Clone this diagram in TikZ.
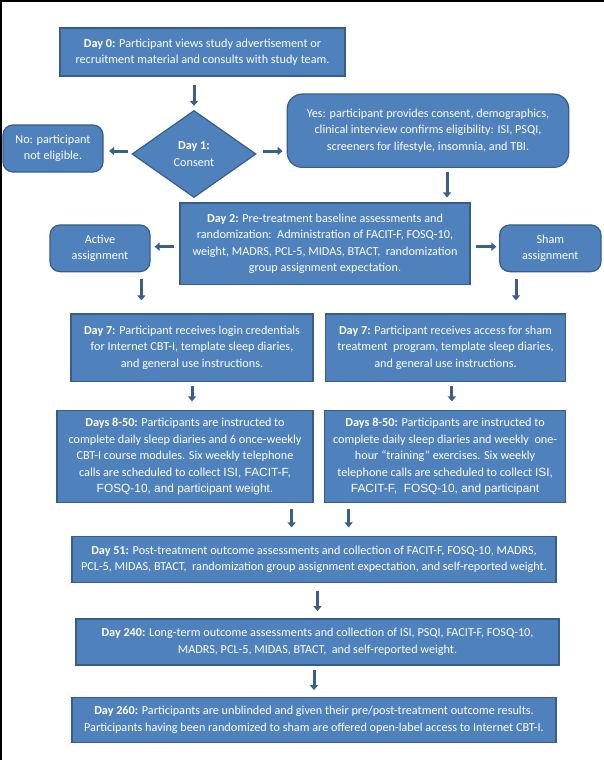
\documentclass[tikz,border=0pt]{standalone}
\usepackage{fontspec}
\setmainfont{Carlito}
\newfontfamily\arialf[Scale=0.975]{Liberation Sans}
\usetikzlibrary{shapes.geometric,arrows.meta}
\definecolor{boxfill}{HTML}{4F81BD}
\definecolor{boxline}{HTML}{385D8A}
\definecolor{arrcol}{HTML}{3A5F8B}
\begin{document}
\begin{tikzpicture}[x=1pt,y=-1pt,
  box/.style={draw=boxline, line width=1.2pt, fill=boxfill, text=white, align=center,
    inner sep=0pt, font=\fontsize{12.2}{16.5}\selectfont},
  rbox/.style={box, rounded corners=10pt},
  arr/.style={draw=arrcol, line width=3pt, -{Triangle[width=8pt,length=5pt]}}]
\useasboundingbox (0,0) rectangle (604,760);
\fill[white] (0,0) rectangle (604,760);
\draw[black, line width=2pt] (0,1) -- (604,1);
\draw[black, line width=2pt] (1,0) -- (1,760);

\node[box, minimum width=285pt, minimum height=48pt] (d0) at (202.5,52)
  {\textbf{Day 0:} Participant views study advertisement or\\recruitment material and consults with study team.};
\node[box, shape=diamond, minimum width=124pt, minimum height=87pt] (c1) at (194,154)
  {\textbf{Day 1:}\\Consent};
\node[rbox, minimum width=100pt, minimum height=47pt] (no) at (53,148.5)
  {No: participant\\not eligible.};
\node[box, rounded corners=15pt, minimum width=281.6pt, minimum height=73.3pt] (yes) at (428,130.7)
  {Yes: participant provides consent, demographics,\\clinical interview confirms eligibility: ISI, PSQI,\\screeners for lifestyle, insomnia, and TBI.};
\node[box, minimum width=290pt, minimum height=81.3pt] (d2) at (325,243.7)
  {\textbf{Day 2:} Pre-treatment baseline assessments and\\randomization:\ \ Administration of FACIT-F, FOSQ-10,\\weight, MADRS, PCL-5, MIDAS, BTACT,\ \ randomization\\group assignment expectation.};
\node[rbox, minimum width=100pt, minimum height=46.7pt] (act) at (100,248.3)
  {Active\\assignment};
\node[rbox, minimum width=101.4pt, minimum height=46.7pt] (sham) at (550.3,248.3)
  {Sham\\assignment};
\node[box, minimum width=242pt, minimum height=67.7pt] (d7a) at (192,347.8)
  {\textbf{Day 7:} Participant receives login credentials\\for Internet CBT-I, template sleep diaries,\\and general use instructions.};
\node[box, minimum width=240pt, minimum height=67.7pt] (d7b) at (445.5,347.8)
  {\textbf{Day 7:} Participant receives access for sham\\treatment\ \ program, template sleep diaries,\\and general use instructions.};
\node[box, minimum width=256pt, minimum height=92pt] (d8a) at (185,456.7)
  {\textbf{Days 8-50:} Participants are instructed to\\complete daily sleep diaries and 6 once-weekly\\CBT-I course modules. Six weekly telephone\\calls are scheduled to collect {\arialf ISI, FACIT-F,}\\{\arialf FOSQ-10, and participant weight.}};
\node[box, minimum width=240.8pt, minimum height=92pt] (d8b) at (445.1,456.7)
  {\textbf{Days 8-50:} Participants are instructed to\\complete daily sleep diaries and weekly\ \ one-\\hour “training” exercises. Six weekly\\telephone calls are scheduled to collect {\arialf ISI,}\\{\arialf FACIT-F,\ \ FOSQ-10, and participant}};
\node[box, minimum width=484pt, minimum height=45.6pt] (d51) at (314,559.5)
  {\textbf{Day 51:} Post-treatment outcome assessments and collection of FACIT-F, FOSQ-10, MADRS,\\PCL-5, MIDAS, BTACT,\ \ randomization group assignment expectation, and self-reported weight.};
\node[box, minimum width=483pt, minimum height=46pt] (d240) at (317.5,642)
  {\textbf{Day 240:} Long-term outcome assessments and collection of ISI, PSQI, FACIT-F, FOSQ-10,\\MADRS, PCL-5, MIDAS, BTACT,\ \ and self-reported weight.};
\node[box, minimum width=484pt, minimum height=45.4pt] (d260) at (314,720)
  {\textbf{Day 260:} Participants are unblinded and given their pre/post-treatment outcome results.\\Participants having been randomized to sham are offered open-label access to Internet CBT-I.};

\draw[arr, shorten <=8pt, shorten >=4pt] (c1.north |- d0.south) -- (c1.north);
\draw[arr, shorten <=3pt, shorten >=5.5pt] ([yshift=3pt]c1.west) -- ([yshift=3pt]c1.west -| no.east);
\draw[arr, shorten <=6pt, shorten >=4pt] ([yshift=3pt]c1.east) -- ([yshift=3pt]c1.east -| yes.west);
\draw[arr, shorten <=4pt, shorten >=5pt] ([xshift=19pt]yes.south) -- ([xshift=19pt]yes.south |- d2.north);
\draw[arr, shorten <=5pt, shorten >=4pt] ([yshift=-3pt]d2.west) -- ([yshift=-3pt]d2.west -| act.east);
\draw[arr, shorten <=5.7pt, shorten >=2.6pt] ([yshift=-3pt]d2.east) -- ([yshift=-3pt]d2.east -| sham.west);
\draw[arr, shorten <=7pt, shorten >=13pt] ([xshift=41.4pt]act.south) -- ([xshift=41.4pt]act.south |- d7a.north);
\draw[arr, shorten <=7pt, shorten >=13pt] ([xshift=-34.3pt]sham.south) -- ([xshift=-34.3pt]sham.south |- d7b.north);
\draw[arr, shorten <=3.3pt, shorten >=8.7pt] (d7a.south) -- (d7a.south |- d8a.north);
\draw[arr, shorten <=3.3pt, shorten >=8.7pt] ([xshift=6.3pt]d7b.south) -- ([xshift=6.3pt]d7b.south |- d8b.north);
\draw[arr, shorten <=5.3pt, shorten >=8.7pt] ([xshift=106.6pt]d8a.south) -- ([xshift=106.6pt]d8a.south |- d51.north);
\draw[arr, shorten <=5.3pt, shorten >=8.7pt] ([xshift=-96.5pt]d8b.south) -- ([xshift=-96.5pt]d8b.south |- d51.north);
\draw[arr, shorten <=7.7pt, shorten >=7.3pt] (d240.north |- d51.south) -- (d240.north);
\draw[arr, shorten <=4pt, shorten >=6.6pt] (d260.north |- d240.south) -- (d260.north);
\end{tikzpicture}
\end{document}
